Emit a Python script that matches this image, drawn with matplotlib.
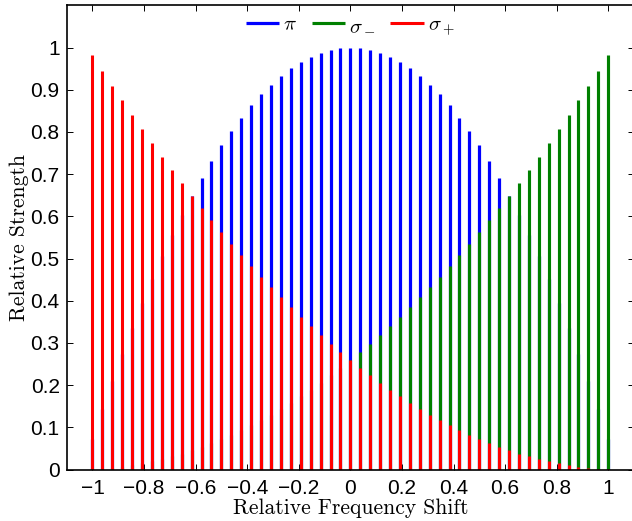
import numpy as np
import matplotlib
matplotlib.use("Agg")
import matplotlib.pyplot as plt

# relative frequency shift (M/J for J = 26, M = -26..26)
shift = np.arange(-26, 27) / 26

# pi component, |M| = 26 .. 0 .. 26
pi_half = [0.073, 0.143, 0.210, 0.274, 0.336, 0.395, 0.451, 0.505, 0.556,
           0.604, 0.649, 0.691, 0.731, 0.768, 0.802, 0.834, 0.863, 0.889,
           0.912, 0.933, 0.951, 0.966, 0.978, 0.988, 0.995, 0.999, 1.000]
pi_strength = pi_half + pi_half[-2::-1]

# sigma+ component, from shift -1 to 1
sigma_plus = [0.9815, 0.9451, 0.9095, 0.8745, 0.8402, 0.8066, 0.7737, 0.7414,
              0.7099, 0.6790, 0.6488, 0.6193, 0.5905, 0.5624, 0.5350, 0.5082,
              0.4822, 0.4568, 0.4321, 0.4081, 0.3848, 0.3621, 0.3402, 0.3189,
              0.2984, 0.2785, 0.2593, 0.2407, 0.2229, 0.2058, 0.1893, 0.1735,
              0.1584, 0.1440, 0.1303, 0.1173, 0.1049, 0.0933, 0.0823, 0.0720,
              0.0624, 0.0535, 0.0453, 0.0377, 0.0309, 0.0247, 0.0192, 0.0144,
              0.0103, 0.0069, 0.0041, 0.0021, 0.0007]
# sigma- is the mirror image
sigma_minus = sigma_plus[::-1]

plt.rcParams['mathtext.fontset'] = 'cm'
plt.rcParams['axes.unicode_minus'] = True

fig = plt.figure(figsize=(6.32, 5.21), dpi=100)
ax = fig.add_axes([0.1055, 0.0988, 0.8977, 0.891])

ax.vlines(shift, 0, pi_strength, color='#0000ff', lw=2.3, label=r'$\pi$')
ax.vlines(shift, 0, sigma_minus, color='#008000', lw=2.25, label=r'$\sigma_-$')
ax.vlines(shift, 0, sigma_plus, color='#ff0000', lw=2.2, label=r'$\sigma_+$')

ax.set_xlim(-1.1, 1.1)
ax.set_ylim(0, 1.1)
ax.set_xticks(np.arange(-1, 1.01, 0.2))
ax.set_yticks(np.arange(0, 1.01, 0.1))
ax.set_xticklabels(['\u22121', '\u22120.8', '\u22120.6', '\u22120.4', '\u22120.2',
                    '0', '0.2', '0.4', '0.6', '0.8', '1'])
ax.set_yticklabels(['0', '0.1', '0.2', '0.3', '0.4', '0.5', '0.6', '0.7',
                    '0.8', '0.9', '1'])
ax.tick_params(direction='in', top=True, right=True, length=4.5, width=0.7,
               labelsize=15, pad=5)
ax.tick_params(axis='x', pad=7)
for lbl in ax.get_xticklabels() + ax.get_yticklabels():
    lbl.set_family('Liberation Sans')
for sp in ax.spines.values():
    sp.set_linewidth(1.2)

ax.set_xlabel('Relative Frequency Shift', family='cmr10', fontsize=15.5, labelpad=0)
ax.set_ylabel('Relative Strength', family='cmr10', fontsize=15.5, labelpad=1.5)

ax.legend(loc='upper center', ncol=3, frameon=False, fontsize=15,
          handlelength=1.6, handletextpad=0.2, columnspacing=0.7,
          borderaxespad=0.25, borderpad=0.2)

fig.savefig('out.png', dpi=100)
